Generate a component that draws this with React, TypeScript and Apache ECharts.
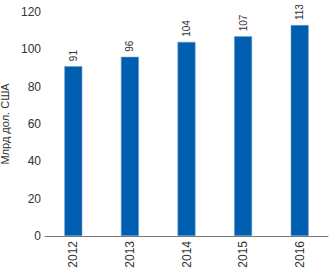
import React, { useEffect, useRef } from "react";
import * as echarts from "echarts";

const categories = ["2012", "2013", "2014", "2015", "2016"];
const values = [91, 96, 104, 107, 113];
const yTicks = [0, 20, 40, 60, 80, 100, 120];

export default function App() {
  const ref = useRef<HTMLDivElement>(null);
  useEffect(() => {
    const chart = echarts.init(ref.current!, null, { renderer: "svg" });
    chart.setOption({
      animation: false,
      grid: { left: 45, right: 3, top: 12, bottom: 36, containLabel: false, outerBoundsMode: "none" },
      xAxis: {
        type: "category",
        data: categories,
        axisLine: { show: true, lineStyle: { color: "#777", width: 1 } },
        axisTick: { show: false },
        axisLabel: {
          rotate: 90,
          color: "#333",
          fontFamily: "Liberation Sans, Arial, sans-serif",
          fontSize: 12,
          margin: 5,
        },
      },
      yAxis: {
        type: "value",
        min: yTicks[0],
        max: yTicks[yTicks.length - 1],
        interval: 20,
        name: "Млрд дол. США",
        nameLocation: "middle",
        nameGap: 27,
        nameRotate: 90,
        nameTextStyle: {
          color: "#333",
          fontFamily: "Liberation Sans, Arial, sans-serif",
          fontSize: 11,
        },
        splitLine: { show: false },
        axisLine: { show: false },
        axisTick: { show: false },
        axisLabel: {
          color: "#333",
          fontFamily: "Liberation Sans, Arial, sans-serif",
          fontSize: 12,
          margin: 4,
        },
      },
      series: [
        {
          type: "bar",
          data: values,
          barWidth: 18,
          itemStyle: { color: "#005eb0", borderColor: "#6f9ed0", borderWidth: 0.6 },
          label: {
            show: true,
            position: "top",
            rotate: 90,
            align: "left",
            verticalAlign: "middle",
            distance: 5,
            color: "#333",
            fontFamily: "Liberation Sans, Arial, sans-serif",
            fontSize: 10,
          },
        },
      ],
    });
    return () => chart.dispose();
  }, []);
  return <div ref={ref} style={{ width: 331, height: 272, position: "absolute", left: 0, top: 0 }} />;
}
